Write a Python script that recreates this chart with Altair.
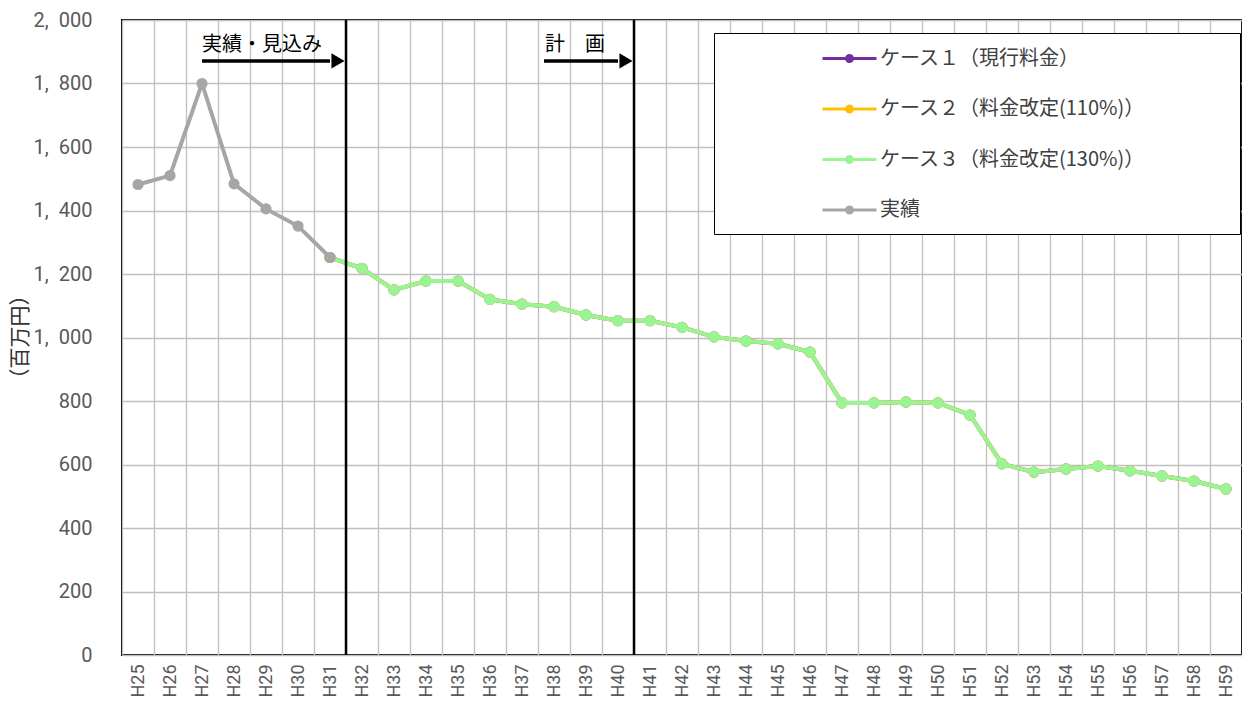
import altair as alt
import pandas as pd

years = [f"H{n}" for n in range(25, 60)]

actual_years = ["H25", "H26", "H27", "H28", "H29", "H30", "H31"]
actual_values = [1482, 1510, 1800, 1484, 1405, 1351, 1252]

plan_years = [f"H{n}" for n in range(31, 60)]
plan_values = [1252, 1218, 1150, 1178, 1178, 1120, 1105, 1097, 1071, 1053,
               1053, 1032, 1002, 989, 980, 954, 794, 794, 797, 794,
               756, 602, 576, 586, 595, 580, 564, 548, 523]

series_names = ["ケース１（現行料金）", "ケース２（料金改定(110%)）", "ケース３（料金改定(130%)）", "実績"]
series_colors = ["#7030a0", "#ffc000", "#99f593", "#a6a6a6"]

rows = []
for s in series_names[:3]:
    for y, v in zip(plan_years, plan_values):
        rows.append({"series": s, "year": y, "value": v})
for y, v in zip(actual_years, actual_values):
    rows.append({"series": series_names[3], "year": y, "value": v})
df = pd.DataFrame(rows)

divider_years = ["H32", "H41"]
ann_text = pd.DataFrame({"year": ["H27", "H38"], "value": [1921, 1921], "label": ["実績・見込み", "計　画"]})
arrow1 = pd.DataFrame({"year": ["H27"], "year2": ["H31"], "value": [1871]})
arrow2 = pd.DataFrame({"year": ["H38"], "year2": ["H40"], "value": [1871]})
heads = pd.DataFrame({"year": ["H31", "H40"], "value": [1871, 1871]})

JP = "Noto Sans CJK JP"
YTITLE = "（百万円）"

xscale = alt.Scale(type="band", domain=years, paddingInner=0, paddingOuter=0)
yscale = alt.Scale(domain=[0, 2000], nice=False)

xaxis = alt.Axis(title=None, labelAngle=270, labelFontSize=18, labelColor="#595959",
                 labelPadding=9, tickBand="extent", grid=True, labelFont="Roboto")
yaxis = alt.Axis(values=list(range(0, 2001, 200)), title=None,
                 labelExpr="replace(format(datum.value, ','), ',', ',\u2002')",
                 labelFontSize=20, labelColor="#595959", labelPadding=30, labelFont="Roboto")

X = alt.X("year:N", scale=xscale, sort=years, axis=xaxis)
Y = alt.Y("value:Q", scale=yscale, axis=yaxis)

pad = "\u3000" * 4 + "\u2002" + "\u200b"
sym = ("M-2.7,0H2.7"
       "M-0.15,0A0.15,0.15,0,1,1,0.15,0A0.15,0.15,0,1,1,-0.15,0"
       "M-0.3,0A0.3,0.3,0,1,1,0.3,0A0.3,0.3,0,1,1,-0.3,0")

legend = alt.Legend(title=None, orient="none", legendX=592, legendY=13,
                    symbolType=sym, symbolSize=400, symbolStrokeWidth=3,
                    labelFont=JP, labelFontSize=20, labelColor="#404040",
                    strokeColor="black", fillColor="white", padding=14,
                    symbolOffset=110, labelOffset=19, rowPadding=28.5,
                    labelExpr=f"datum.label + '{pad}'", labelLimit=800)

color = alt.Color("series:N", scale=alt.Scale(domain=series_names, range=series_colors), legend=legend)

layers = []
for s in series_names:
    layers.append(
        alt.Chart(df).transform_filter(alt.datum.series == s)
        .mark_line(strokeWidth=4, point=alt.OverlayMarkDef(filled=True, size=125, opacity=1))
        .encode(x=X, y=Y, color=color)
    )

dividers = alt.Chart(pd.DataFrame({"year": divider_years})).mark_rule(color="black", strokeWidth=2.5).encode(
    x=alt.X("year:N", scale=xscale, sort=years, axis=xaxis, bandPosition=0)
)

texts1 = alt.Chart(ann_text.iloc[[0]]).mark_text(align="left", baseline="middle", font=JP, fontSize=20, color="black").encode(
    x=X, y=Y, text="label:N")
texts2 = alt.Chart(ann_text.iloc[[1]]).mark_text(align="left", baseline="middle", font=JP, fontSize=20, color="black", dx=-9).encode(
    x=X, y=Y, text="label:N")

a1 = alt.Chart(arrow1).mark_rule(color="black", strokeWidth=3.5).encode(
    x=X, x2="year2:N", y=Y)
a2 = alt.Chart(arrow2).mark_rule(color="black", strokeWidth=3.5, xOffset=-10).encode(
    x=X, x2="year2:N", y=Y)
hd = alt.Chart(heads).mark_point(shape="triangle-right", filled=True, size=230, color="black", opacity=1, xOffset=8).encode(
    x=X, y=Y)

ytitle = alt.Chart(pd.DataFrame({"t": [YTITLE]})).mark_text(
    angle=270, align="center", baseline="middle", font=JP, fontSize=21, color="#333333"
).encode(x=alt.value(-101), y=alt.value(317), text="t:N")

chart = alt.layer(*layers, dividers, a1, a2, hd, texts1, texts2, ytitle).properties(
    width=1120, height=635,
    autosize=alt.AutoSizeParams(type="none"),
    padding={"left": 114, "top": 12, "right": 0, "bottom": 44},
).configure_view(stroke="black", strokeWidth=2).configure_axis(
    gridColor="#bfbfbf", gridWidth=1.3, domain=False, ticks=False
)

chart.save("out.html", embed_options={"renderer": "svg", "actions": False})
